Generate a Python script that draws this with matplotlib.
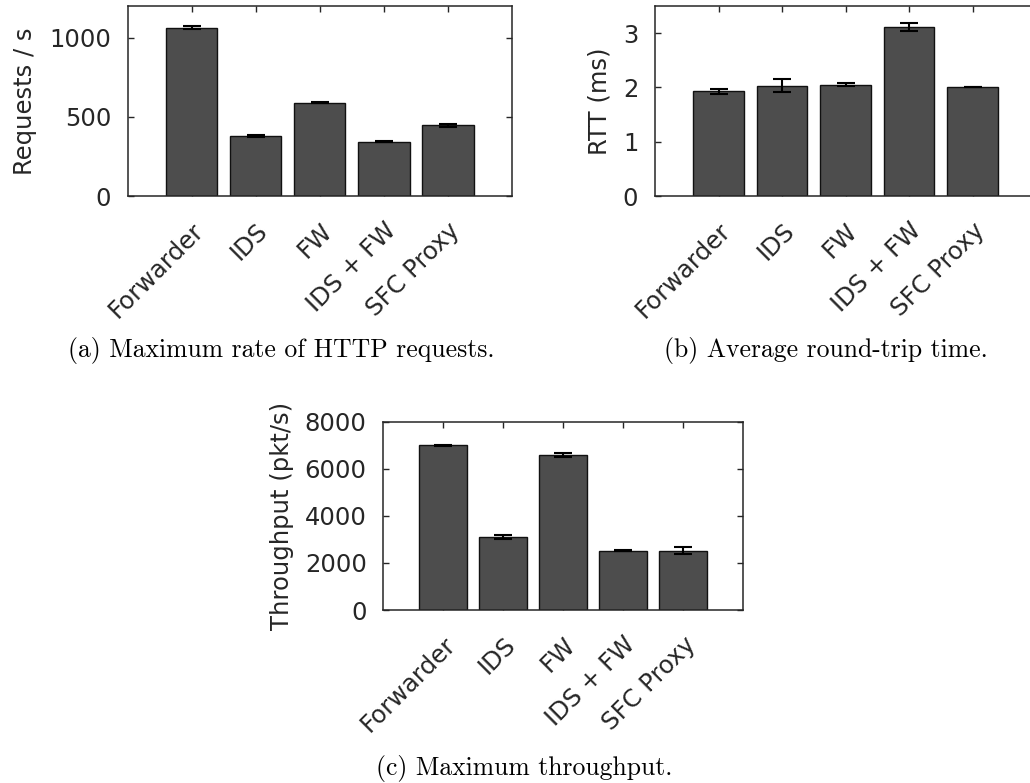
import matplotlib
matplotlib.use("Agg")
import matplotlib.pyplot as plt
import numpy as np

categories = ["Forwarder", "IDS", "FW", "IDS + FW", "SFC Proxy"]

req_values = [1063, 380, 590, 344, 447]
req_errors = [10, 6, 5, 4, 9]

rtt_values = [1.93, 2.03, 2.05, 3.11, 2.01]
rtt_errors = [0.05, 0.12, 0.03, 0.07, 0.005]

thr_values = [6990, 3100, 6600, 2520, 2520]
thr_errors = [30, 80, 90, 15, 140]

captions = ["(a) Maximum rate of HTTP requests.",
            "(b) Average round-trip time.",
            "(c) Maximum throughput."]

plt.rcParams['font.family'] = ['DejaVu Sans']

W, H = 1030, 783
fig = plt.figure(figsize=(W / 100, H / 100), dpi=100)

def pos(l, r, t, b):
    return [l / W, 1 - b / H, (r - l) / W, (b - t) / H]

TXT = '#262626'
FS = 17.5

def panel(rect, values, errors, ylim, yticks, ylabel, labelpad):
    ax = fig.add_axes(rect)
    x = np.arange(1, len(categories) + 1)
    ax.bar(x, values, width=0.8, color='#4d4d4d', edgecolor='#111111',
           linewidth=1.0, zorder=2)
    ax.errorbar(x, values, yerr=errors, fmt='none', ecolor='black',
                elinewidth=1.5, capsize=6.5, capthick=1.5, zorder=3)
    ax.set_xlim(0, len(categories) + 1)
    ax.set_ylim(*ylim)
    ax.set_yticks(yticks)
    ax.set_xticks(x)
    ax.set_xticklabels(categories, rotation=45, ha='right',
                       rotation_mode='anchor', fontsize=FS, color=TXT)
    ax.tick_params(axis='both', direction='in', length=4, width=1,
                   color=TXT, top=True, right=True, labelsize=FS,
                   labelcolor=TXT)
    ax.tick_params(axis='y', pad=12)
    ax.tick_params(axis='x', pad=16)
    for s in ax.spines.values():
        s.set_color(TXT)
        s.set_linewidth(1.1)
    ax.set_ylabel(ylabel, fontsize=FS, color=TXT, labelpad=labelpad)
    return ax

panel(pos(127.7, 512, 6, 196), req_values, req_errors, (0, 1200),
      [0, 500, 1000], "Requests / s", 9)
panel(pos(655, 1036, 6, 196), rtt_values, rtt_errors, (0, 3.5),
      [0, 1, 2, 3], "RTT (ms)", 8)
panel(pos(383.3, 743.3, 421.7, 610), thr_values, thr_errors, (0, 8000),
      [0, 2000, 4000, 6000, 8000], "Throughput (pkt/s)", 8)

cap_kw = dict(family='cmr10', fontsize=18.5, ha='center', va='baseline',
              color='black')
fig.text(281 / W, 1 - 357 / H, captions[0], **cap_kw)
fig.text(826 / W, 1 - 357 / H, captions[1], **cap_kw)
fig.text(524 / W, 1 - 775 / H, captions[2], **cap_kw)

fig.savefig("out.png", dpi=100)
